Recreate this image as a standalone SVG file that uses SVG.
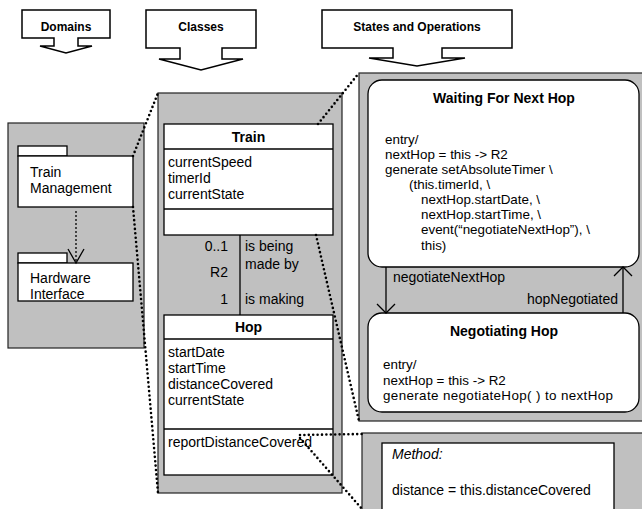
<svg xmlns="http://www.w3.org/2000/svg" width="642" height="509" viewBox="0 0 642 509">
<style>
text{font-family:"Liberation Sans",Arial,sans-serif;fill:#000}
.hdr{font-size:12px;font-weight:bold;text-anchor:middle}
.arrowbox{fill:#fff;stroke:#000;stroke-width:1.5;stroke-linejoin:miter}
.panel{fill:#c0c0c0;stroke:#222;stroke-width:1.2}
.box{fill:#fff;stroke:#000;stroke-width:1.3}
.ln{stroke:#000;stroke-width:1.3;fill:none}
.t14{font-size:14px}
.t13{font-size:13.4px}
.b14{font-size:14px;font-weight:bold;text-anchor:middle}
.dot{stroke:#000;stroke-width:2.6;stroke-linecap:round;stroke-dasharray:0 4.4;fill:none}
</style>

<g id="hdr-domains">
<polygon class="arrowbox" points="22,10 110,10 110,38 78,38 78,46 92,46 66,53 40,46 54,46 54,38 22,38"/>
<text class="hdr" x="66" y="31">Domains</text>
</g>
<g id="hdr-classes">
<polygon class="arrowbox" points="146,10 256,10 256,48 222,48 222,59 243,59 201,70 159,59 180,59 180,48 146,48"/>
<text class="hdr" x="201" y="31">Classes</text>
</g>
<g id="hdr-states">
<polygon class="arrowbox" points="322,10 512,10 512,48 442,48 442,58 465,58 417,66 369,58 393,58 393,48 322,48"/>
<text class="hdr" x="417" y="31">States and Operations</text>
</g>

<g id="panel-domains">
<rect class="panel" x="8" y="123" width="136" height="225"/>
</g>
<g id="pkg-train-management">
<rect class="box" x="18" y="146" width="49" height="10"/>
<rect class="box" x="18" y="156" width="115" height="51"/>
<text class="t14" x="30" y="177">Train</text>
<text class="t14" x="30" y="193">Management</text>
</g>
<g id="pkg-hardware-interface">
<rect class="box" x="18" y="253" width="49" height="10"/>
<rect class="box" x="18" y="263" width="115" height="38"/>
<text class="t14" x="30" y="283">Hardware</text>
<text class="t14" x="30" y="299">Interface</text>
</g>

<g id="panel-classes">
<rect class="panel" x="158" y="93" width="184" height="400"/>
</g>
<g id="class-train">
<rect class="box" x="164" y="124" width="169" height="111"/>
<line class="ln" x1="164" y1="149" x2="333" y2="149"/>
<line class="ln" x1="164" y1="209" x2="333" y2="209"/>
<text class="b14" x="248.5" y="142">Train</text>
<text class="t14" x="168" y="167">currentSpeed</text>
<text class="t14" x="168" y="183">timerId</text>
<text class="t14" x="168" y="199">currentState</text>
</g>
<g id="class-hop">
<rect class="box" x="164" y="315" width="169" height="160"/>
<line class="ln" x1="164" y1="339" x2="333" y2="339"/>
<line class="ln" x1="164" y1="429" x2="333" y2="429"/>
<text class="b14" x="248.5" y="332">Hop</text>
<text class="t14" x="168" y="357">startDate</text>
<text class="t14" x="168" y="373">startTime</text>
<text class="t14" x="168" y="389">distanceCovered</text>
<text class="t14" x="168" y="405">currentState</text>
<text class="t14" x="168" y="447">reportDistanceCovered</text>
</g>

<g id="panel-states">
<rect class="panel" x="359" y="73" width="290" height="348"/>
</g>
<g id="state-waiting">
<rect class="box" x="368" y="80" width="271" height="187" rx="14" ry="14"/>
<text class="b14" x="504" y="103">Waiting For Next Hop</text>
<text class="t13" x="385" y="144">entry/</text>
<text class="t13" x="385" y="159">nextHop = this -&gt; R2</text>
<text class="t13" x="385" y="174">generate setAbsoluteTimer \</text>
<text class="t13" x="409" y="189">(this.timerId, \</text>
<text class="t13" x="421" y="204">nextHop.startDate, \</text>
<text class="t13" x="421" y="219">nextHop.startTime, \</text>
<text class="t13" x="421" y="234">event(“negotiateNextHop”), \</text>
<text class="t13" x="421" y="249.5">this)</text>
</g>
<g id="state-negotiating">
<rect class="box" x="368" y="313" width="271" height="99" rx="14" ry="14"/>
<text class="b14" x="504" y="336">Negotiating Hop</text>
<text class="t13" x="383" y="369">entry/</text>
<text class="t13" x="383" y="384.5">nextHop = this -&gt; R2</text>
<text class="t13" x="383" y="400" textLength="230" lengthAdjust="spacing">generate negotiateHop( ) to nextHop</text>
</g>

<g id="panel-method">
<rect class="panel" x="362" y="433" width="290" height="90"/>
</g>
<g id="method-box">
<rect class="box" x="382" y="443" width="232" height="80"/>
<text class="t14" x="392" y="459" font-style="italic">Method:</text>
<text class="t14" x="392" y="495">distance = this.distanceCovered</text>
</g>

<g id="connectors">
<line class="ln" x1="76" y1="211" x2="76" y2="262" stroke-width="2" stroke-dasharray="2 2"/>
<polyline class="ln" points="68,249 76,263 84,249" stroke-width="2"/>
<line class="ln" x1="240" y1="235" x2="240" y2="315"/>
<text class="t14" x="228" y="251" text-anchor="end">0..1</text>
<text class="t14" x="228" y="277" text-anchor="end">R2</text>
<text class="t14" x="228" y="304" text-anchor="end">1</text>
<text class="t14" x="245" y="251">is being</text>
<text class="t14" x="245" y="269">made by</text>
<text class="t14" x="245" y="304">is making</text>
<line class="ln" x1="386" y1="267" x2="386" y2="313"/>
<polyline class="ln" points="377,304 386,313 395,304"/>
<line class="ln" x1="623" y1="313" x2="623" y2="267"/>
<polyline class="ln" points="614,276 623,267 632,276"/>
<text class="t14" x="393" y="282">negotiateNextHop</text>
<text class="t14" x="618" y="304" text-anchor="end">hopNegotiated</text>
<line class="dot" x1="133" y1="156" x2="158" y2="93"/>
<line class="dot" x1="133" y1="207" x2="158" y2="493"/>
<line class="dot" x1="318" y1="124" x2="359" y2="73"/>
<line class="dot" x1="316" y1="235" x2="359" y2="421"/>
<line class="dot" x1="300" y1="435" x2="362" y2="434"/>
<line class="dot" x1="300" y1="438" x2="362" y2="509"/>
</g>
</svg>
